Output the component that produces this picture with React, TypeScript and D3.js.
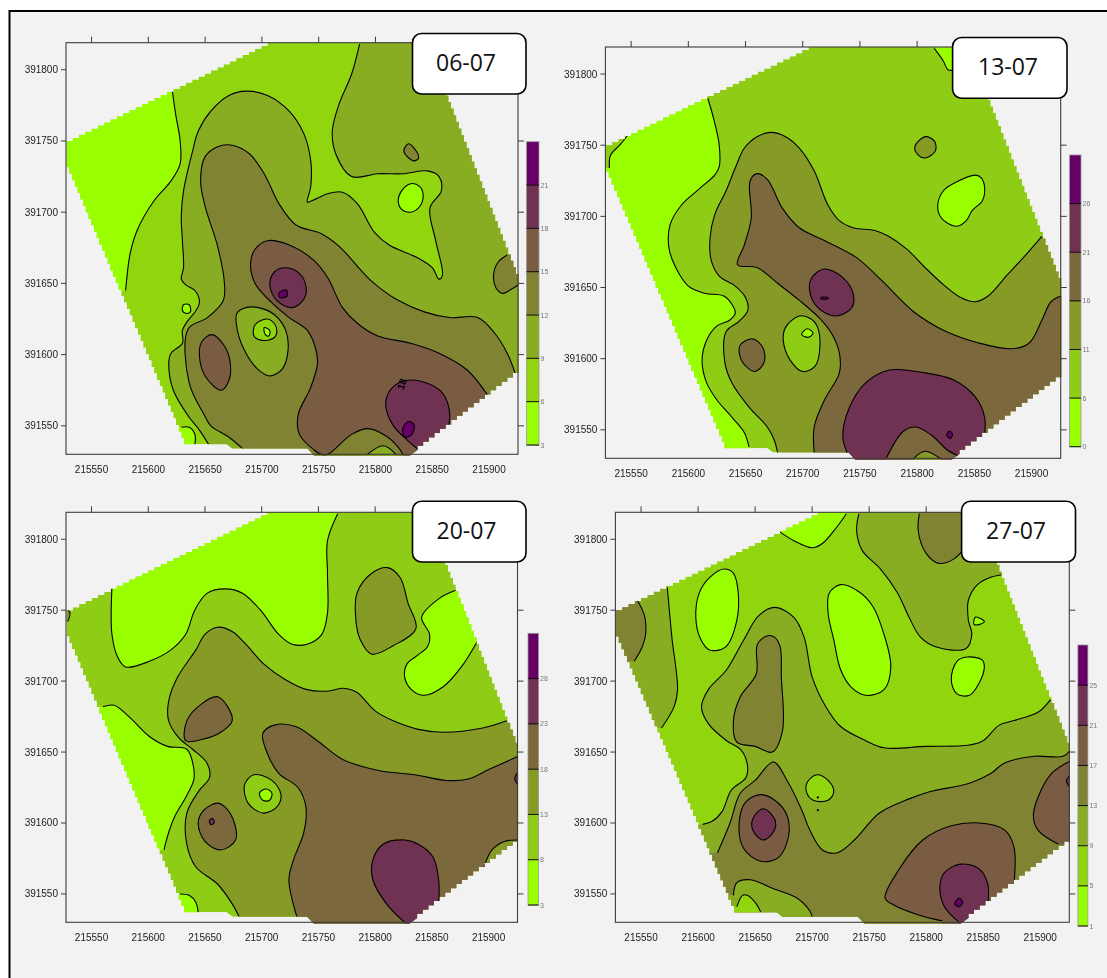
import React from "react";
import * as d3 from "d3";

type Pt = [number, number];
type Shape = { level: number; line: Pt[]; outer?: Pt[] };

// Survey coordinates are stored as metres past these bases.
const EAST_BASE = 215000;
const NORTH_BASE = 391000;
const xTicks = [215550, 215600, 215650, 215700, 215750, 215800, 215850, 215900];
const yTicks = [391550, 391600, 391650, 391700, 391750, 391800];

// Surveyed field outline, shared by all four dates.
const fieldOutline: Pt[] = [[528,750],[705,819],[831,819],[862,782],[926,652],[926,587],[837,533],[830,529],[746,529],[740,534],[674,534],[669,537],[634,537],[528,736]];

// ---- 06-07 ----
const a1Low: Pt[] = [[621,786],[624,769],[628,750],[628,734],[620,722],[605,708],[590,687],[584,671],[580,645]];
const a1LowOut: Pt[] = [[500,645],[500,800],[621,800]];
const a1Corner: Pt[] = [[629,549],[636,549],[641,544],[641,537]];
const a1CornerOut: Pt[] = [[641,500],[600,500],[600,549]];
const a1Tiny: Pt[] = [[631,635],[636,635],[637,630],[633,629],[630,631]];
const a1Mid: Pt[] = [[786,818],[779,797],[768,776],[762,757],[765,741],[779,725],[802,727],[824,727],[846,729],[856,725],[858,715],[848,703],[853,680],[859,656],[856,653],[850,661],[837,668],[812,677],[799,686],[784,706],[771,714],[758,713],[744,708],[740,707],[743,718],[743,736],[737,755],[724,771],[705,782],[686,785],[671,782],[655,771],[644,757],[639,743],[631,715],[629,697],[630,680],[631,661],[629,653],[633,649],[641,645],[645,637],[642,631],[634,623],[630,617],[630,608],[620,601],[618,594],[622,575],[636,556],[645,547],[653,537]];
const a1MidOut: Pt[] = [[653,500],[1000,500],[1000,850],[786,850]];
const a1NE: Pt[] = [[829,748],[825,743],[828,739],[834,736],[838,738],[834,745]];
const a1Pocket: Pt[] = [[831,720],[823,715],[820,708],[823,702],[831,700],[839,704],[842,712],[839,718]];
const a1Olive: Pt[] = [[683,534],[671,542],[655,550],[649,558],[636,580],[635,618],[652,626],[666,638],[667,650],[661,676],[650,704],[646,722],[650,739],[661,746],[674,747],[689,741],[702,727],[715,706],[730,691],[752,685],[768,676],[796,652],[818,639],[843,630],[865,626],[890,626],[905,615],[916,601],[923,587]];
const a1OliveOut: Pt[] = [[1000,560],[1000,500],[683,500]];
const a1East: Pt[] = [[916,670],[908,665],[904,656],[906,647],[912,643],[920,646],[926,649]];
const a1EastOut: Pt[] = [[1000,649],[1000,670]];
const a1Hole: Pt[] = [[686,633],[678,629],[679,615],[686,601],[696,590],[707,585],[718,590],[723,603],[721,617],[711,628],[697,633]];
const a1HoleIn: Pt[] = [[704,625],[694,621],[693,613],[700,610],[711,612],[713,618],[708,624]];
const a1HoleCore: Pt[] = [[702,619],[707,617],[706,613],[703,614]];
const a1Brown: Pt[] = [[900,570],[881,589],[856,601],[831,608],[802,613],[784,622],[771,633],[758,654],[746,666],[724,677],[705,680],[694,674],[690,664],[694,650],[708,637],[724,626],[740,617],[747,605],[749,594],[743,577],[732,558],[733,544],[746,533],[752,530],[758,530],[779,544],[793,548],[809,543],[821,534],[824,530]];
const a1BrownOut: Pt[] = [[824,500],[1000,500],[1000,570]];
const a1South: Pt[] = [[793,530],[807,536],[818,530]];
const a1SouthOut: Pt[] = [[818,520],[793,520]];
const a1West: Pt[] = [[656,614],[647,609],[645,599],[650,585],[664,575],[671,582],[672,595],[667,606]];
const a1PlumN: Pt[] = [[721,661],[711,658],[707,649],[713,638],[727,633],[737,639],[739,647],[733,657]];
const a1PeakN: Pt[] = [[715,643],[718,645],[722,645],[722,641],[716,640]];
const a1PlumS: Pt[] = [[828,582],[815,577],[809,566],[815,551],[828,540],[840,533],[850,537],[864,550],[865,561],[859,573],[845,580]];
const a1PeakS: Pt[] = [[829,553],[824,548],[826,542],[832,544],[834,551]];

// ---- 13-07 ----
const b1Low: Pt[] = [[617,783],[622,769],[627,750],[627,735],[623,729],[609,719],[594,708],[584,694],[583,678],[589,664],[600,651],[614,646],[631,644],[639,637],[641,632],[636,627],[625,623],[616,613],[612,599],[616,583],[625,571],[638,559],[649,548],[653,538]];
const b1LowOut: Pt[] = [[653,500],[500,500],[500,850],[617,850]];
const b1Corner: Pt[] = [[547,757],[540,750],[532,743],[531,734]];
const b1CornerOut: Pt[] = [[500,734],[500,760]];
const b1Top: Pt[] = [[815,818],[823,809],[827,803],[834,803]];
const b1TopOut: Pt[] = [[860,803],[860,830],[815,830]];
const b1Mid: Pt[] = [[909,686],[895,673],[879,659],[862,644],[851,640],[838,643],[823,652],[807,664],[791,677],[775,686],[763,690],[744,692],[732,697],[722,708],[710,732],[697,748],[685,756],[672,759],[660,756],[649,748],[641,734],[633,718],[623,701],[619,685],[620,669],[627,658],[641,651],[650,643],[652,634],[644,626],[633,619],[632,597],[638,583],[653,566],[669,552],[675,543],[678,534]];
const b1MidOut: Pt[] = [[678,500],[1000,500],[1000,686]];
const b1Isle: Pt[] = [[807,756],[798,749],[801,743],[807,741],[816,746],[815,753]];
const b1Pond: Pt[] = [[851,729],[834,724],[823,718],[818,708],[821,699],[834,693],[843,697],[848,704],[857,711],[859,720],[856,727]];
const b1Brown: Pt[] = [[710,534],[710,552],[719,571],[732,590],[732,604],[725,618],[714,629],[697,641],[678,653],[660,664],[643,666],[649,680],[655,699],[654,725],[660,730],[669,726],[682,706],[697,692],[719,683],[747,671],[769,655],[797,633],[823,620],[854,611],[883,607],[898,611],[909,627],[917,640],[926,644]];
const b1BrownOut: Pt[] = [[1000,644],[1000,500],[710,500]];
const b1Hole: Pt[] = [[697,630],[685,622],[683,613],[689,599],[700,591],[711,595],[715,608],[713,622],[707,628]];
const b1HoleCore: Pt[] = [[704,621],[709,618],[705,615],[699,617]];
const b1West: Pt[] = [[655,614],[645,609],[647,598],[658,591],[666,597],[666,606],[661,612]];
const b1PlumN: Pt[] = [[719,663],[708,657],[706,648],[713,636],[729,630],[743,636],[744,646],[735,657]];
const b1PeakN: Pt[] = [[716,643],[722,643],[722,642],[716,642]];
const b1PlumS: Pt[] = [[741,530],[735,545],[741,566],[755,583],[776,592],[807,590],[832,585],[851,573],[859,559],[859,548]];
const b1PlumSOut: Pt[] = [[900,548],[900,500],[741,500]];
const b1Dome: Pt[] = [[773,530],[788,549],[799,552],[813,546],[826,536],[838,531]];
const b1DomeOut: Pt[] = [[838,520],[773,520]];
const b1DomeIn: Pt[] = [[797,530],[807,535],[820,530]];
const b1DomeInOut: Pt[] = [[820,520],[797,520]];
const b1PeakS: Pt[] = [[828,549],[831,547],[829,544],[826,546]];

// ---- 20-07 ----
const c1Top: Pt[] = [[568,766],[568,733],[573,717],[580,710],[601,714],[620,722],[633,733],[641,750],[652,762],[668,765],[683,762],[699,750],[715,733],[727,726],[740,726],[753,733],[758,748],[758,776],[758,799],[767,818]];
const c1TopOut: Pt[] = [[767,850],[568,850]];
const c1Left: Pt[] = [[560,682],[570,683],[583,675],[601,661],[617,654],[634,652],[640,639],[640,630],[633,618],[623,604],[615,585],[614,581]];
const c1LeftOut: Pt[] = [[500,581],[500,682]];
const c1Right: Pt[] = [[871,764],[856,758],[841,745],[848,733],[846,724],[837,718],[828,712],[826,703],[832,694],[843,690],[860,696],[876,710],[890,728]];
const c1RightOut: Pt[] = [[950,728],[950,764]];
const c1Mid: Pt[] = [[916,672],[895,667],[860,664],[838,666],[816,672],[800,679],[784,692],[772,695],[759,693],[740,694],[721,701],[702,712],[686,726],[674,735],[661,738],[650,733],[642,722],[626,703],[618,686],[618,672],[627,660],[639,652],[652,642],[654,632],[645,623],[634,607],[634,585],[642,569],[661,557],[674,543],[680,534]];
const c1MidOut: Pt[] = [[680,500],[1000,500],[1000,672]];
const c1North: Pt[] = [[811,780],[797,776],[784,762],[783,743],[787,729],[797,719],[816,725],[836,737],[829,755],[822,773]];
const c1Hole: Pt[] = [[693,634],[685,627],[688,614],[701,607],[713,611],[717,620],[709,630]];
const c1HoleCore: Pt[] = [[704,624],[698,621],[701,616],[707,616],[709,621]];
const c1BlobA: Pt[] = [[661,689],[647,684],[634,672],[633,658],[648,659],[664,664],[674,672],[670,682]];
const c1BlobB: Pt[] = [[661,614],[649,609],[644,600],[650,587],[664,581],[677,588],[676,600],[668,611]];
const c1BlobBCore: Pt[] = [[654,602],[657,603],[658,600],[655,599]];
const c1Brown: Pt[] = [[731,534],[724,560],[728,574],[737,593],[739,611],[732,625],[715,635],[705,649],[701,663],[711,669],[730,668],[749,658],[771,645],[803,637],[835,634],[863,630],[882,631],[901,638],[926,647]];
const c1BrownOut: Pt[] = [[1000,647],[1000,500],[731,500]];
const c1Edge: Pt[] = [[896,569],[903,581],[914,587],[926,588]];
const c1EdgeOut: Pt[] = [[960,588],[960,560],[896,560]];
const c1Plum: Pt[] = [[826,530],[810,543],[798,560],[798,574],[807,585],[826,588],[838,585],[851,576],[856,560],[856,542]];
const c1PlumOut: Pt[] = [[860,520],[826,520]];
const c1RimPlum: Pt[] = [[925,635],[923,631],[926,627]];
const c1RimPlumOut: Pt[] = [[935,627],[935,635]];
const c1Corner: Pt[] = [[628,550],[636,549],[642,544],[644,537]];
const c1CornerOut: Pt[] = [[644,500],[600,500],[600,550]];
const c1WestRim: Pt[] = [[527,752],[531,748],[529,742]];
const c1WestRimOut: Pt[] = [[520,742],[520,752]];

// ---- 27-07 ----
const d1Top: Pt[] = [[672,805],[684,799],[700,794],[709,797],[722,809],[730,818]];
const d1TopOut: Pt[] = [[730,830],[672,830]];
const d1PondA: Pt[] = [[623,779],[610,773],[601,762],[598,745],[602,730],[610,722],[624,724],[634,743],[635,764],[631,776]];
const d1PondB: Pt[] = [[725,768],[715,762],[714,748],[719,729],[725,708],[734,696],[747,690],[763,694],[769,710],[763,733],[753,753],[741,763]];
const d1PondC: Pt[] = [[836,717],[827,714],[822,701],[827,691],[838,690],[846,698],[851,710],[849,715]];
const d1PondD: Pt[] = [[843,745],[848,744],[851,742],[847,740],[842,740]];
const d1Strip: Pt[] = [[573,766],[577,731],[582,694],[579,682],[568,667]];
const d1StripOut: Pt[] = [[500,667],[500,800],[573,800]];
const d1FarWest: Pt[] = [[546,758],[553,746],[554,733],[551,724],[544,714]];
const d1FarWestOut: Pt[] = [[500,714],[500,758]];
const d1NE: Pt[] = [[741,818],[739,806],[744,792],[760,779],[775,762],[785,745],[795,731],[809,724],[835,723],[840,733],[837,743],[837,757],[845,768],[856,773],[866,775]];
const d1NEOut: Pt[] = [[866,850],[741,850]];
const d1NECore: Pt[] = [[794,818],[793,806],[800,790],[811,783],[824,786],[835,795]];
const d1NECoreOut: Pt[] = [[860,795],[860,850],[794,850]];
const d1Mid: Pt[] = [[909,687],[898,678],[876,672],[864,669],[850,658],[838,655],[800,654],[763,653],[747,658],[725,668],[712,682],[700,703],[693,731],[684,745],[667,752],[653,746],[640,729],[625,708],[609,694],[603,682],[609,670],[625,658],[637,652],[643,642],[642,632],[629,623],[621,608],[612,601],[604,599]];
const d1MidOut: Pt[] = [[500,599],[500,500],[1000,500],[1000,687]];
const d1Tongue: Pt[] = [[661,732],[652,726],[651,705],[637,689],[631,672],[634,657],[650,654],[665,650],[674,665],[673,703],[672,724],[667,731]];
const d1Isle: Pt[] = [[704,634],[696,629],[695,622],[701,616],[714,616],[719,622],[714,630]];
const d1Olive: Pt[] = [[617,579],[628,600],[637,621],[650,630],[666,643],[678,630],[691,609],[698,595],[709,581],[722,579],[737,588],[759,607],[785,617],[803,622],[838,628],[857,635],[868,642],[895,647],[920,647],[927,652]];
const d1OliveOut: Pt[] = [[1000,652],[1000,500],[500,500],[500,579]];
const d1Ring: Pt[] = [[656,620],[642,615],[636,600],[640,582],[655,573],[671,576],[680,595],[674,611]];
const d1RingCore: Pt[] = [[657,610],[648,603],[648,595],[657,588],[667,595],[667,603]];
const d1East: Pt[] = [[927,644],[910,635],[898,618],[894,605],[898,595],[916,585]];
const d1EastOut: Pt[] = [[950,585],[950,644]];
const d1Rim: Pt[] = [[927,634],[923,630],[927,624]];
const d1RimOut: Pt[] = [[940,624],[940,634]];
const d1South: Pt[] = [[814,531],[794,535],[772,542],[764,547],[776,567],[797,588],[822,598],[847,600],[869,595],[877,583],[877,557]];
const d1SouthOut: Pt[] = [[890,540],[890,520],[814,520]];
const d1Plum: Pt[] = [[829,530],[816,541],[812,555],[816,565],[830,571],[846,568],[854,557],[854,542]];
const d1PlumOut: Pt[] = [[860,525],[829,525]];
const d1Peak: Pt[] = [[829,547],[825,543],[829,541],[832,544]];
const d1SW: Pt[] = [[631,549],[634,558],[646,560],[665,554],[687,547],[698,538],[700,534]];
const d1SWOut: Pt[] = [[700,500],[600,500],[600,549]];
const d1SWIn: Pt[] = [[634,541],[639,549],[643,549],[651,543],[655,537]];
const d1SWInOut: Pt[] = [[655,520],[620,520],[620,541]];
const d1Dots: Pt[] = [[705,618],[705,609]];

const legend06 = ["3", "6", "9", "12", "15", "18", "21"];
const legend13 = ["0", "6", "11", "16", "21", "26"];
const legend20 = ["3", "8", "13", "18", "23", "28"];
const legend27 = ["1", "5", "9", "13", "17", "21", "25"];

const palette7 = ["#99ff00", "#90d510", "#88ad20", "#808433", "#7a5c42", "#703352", "#660066"];
const palette6 = ["#99ff00", "#8fcc12", "#869a28", "#7c673c", "#703352", "#660066"];

const s = (level: number, line: Pt[], outer?: Pt[]): Shape => ({ level, line, outer });

const shapes06: Shape[] = [
  s(0, a1Low, a1LowOut), s(0, a1Corner, a1CornerOut), s(0, a1Tiny), s(0, a1Pocket),
  s(2, a1Mid, a1MidOut), s(3, a1NE),
  s(3, a1Olive, a1OliveOut), s(3, a1East, a1EastOut),
  s(2, a1Hole), s(1, a1HoleIn), s(0, a1HoleCore),
  s(4, a1Brown, a1BrownOut), s(2, a1South, a1SouthOut), s(4, a1West),
  s(5, a1PlumN), s(6, a1PeakN), s(5, a1PlumS), s(6, a1PeakS),
];
const shapes13: Shape[] = [
  s(0, b1Low, b1LowOut), s(1, b1Corner, b1CornerOut), s(0, b1Top, b1TopOut), s(0, b1Pond),
  s(2, b1Mid, b1MidOut), s(2, b1Isle),
  s(3, b1Brown, b1BrownOut), s(1, b1Hole), s(0, b1HoleCore), s(3, b1West),
  s(4, b1PlumN), s(5, b1PeakN),
  s(4, b1PlumS, b1PlumSOut), s(3, b1Dome, b1DomeOut), s(2, b1DomeIn, b1DomeInOut), s(5, b1PeakS),
];
const shapes20: Shape[] = [
  s(0, c1Top, c1TopOut), s(0, c1Left, c1LeftOut), s(0, c1Right, c1RightOut), s(2, c1WestRim, c1WestRimOut),
  s(2, c1Mid, c1MidOut), s(2, c1North),
  s(1, c1Hole), s(0, c1HoleCore), s(3, c1BlobA), s(3, c1BlobB), s(4, c1BlobBCore),
  s(3, c1Brown, c1BrownOut), s(2, c1Edge, c1EdgeOut), s(4, c1Plum, c1PlumOut), s(4, c1RimPlum, c1RimPlumOut),
  s(0, c1Corner, c1CornerOut),
];
const shapes27: Shape[] = [
  s(0, d1Top, d1TopOut), s(0, d1PondA), s(0, d1PondB), s(0, d1PondC), s(0, d1PondD),
  s(2, d1Strip, d1StripOut), s(3, d1FarWest, d1FarWestOut),
  s(2, d1NE, d1NEOut), s(3, d1NECore, d1NECoreOut),
  s(2, d1Mid, d1MidOut), s(3, d1Tongue), s(1, d1Isle),
  s(3, d1Olive, d1OliveOut), s(4, d1Ring), s(5, d1RingCore),
  s(4, d1East, d1EastOut), s(5, d1Rim, d1RimOut),
  s(4, d1South, d1SouthOut), s(5, d1Plum, d1PlumOut), s(6, d1Peak),
  s(2, d1SW, d1SWOut), s(1, d1SWIn, d1SWInOut),
];

type PanelCfg = {
  id: string; date: string; shapes: Shape[]; legend: string[]; palette: string[]; dots?: Pt[];
  frame: [number, number, number, number];
  bar: [number, number, number, number];
  box: [number, number, number, number]; textX: number; textY: number;
};

const panels: PanelCfg[] = [
  { id: "p06", date: "06-07", shapes: shapes06, legend: legend06, palette: palette7, frame: [66, 518, 42.7, 454.3], bar: [526.5, 539, 141.7, 445], box: [412.5, 33.5, 113.5, 60.5], textX: 466, textY: 71 },
  { id: "p13", date: "13-07", shapes: shapes13, legend: legend13, palette: palette6, frame: [605.4, 1060.7, 47, 458.3], bar: [1069.6, 1081, 155, 446.7], box: [952.6, 37.5, 114.4, 60.8], textX: 1008, textY: 75 },
  { id: "p20", date: "20-07", shapes: shapes20, legend: legend20, palette: palette6, frame: [66, 517.5, 512.3, 922.3], bar: [528, 538.6, 633.3, 905], box: [412.5, 501.2, 113.5, 60.8], textX: 466.5, textY: 539 },
  { id: "p27", date: "27-07", shapes: shapes27, legend: legend27, palette: palette7, dots: d1Dots, frame: [615.4, 1069.3, 512.3, 922.3], bar: [1077.9, 1087.9, 645, 926], box: [961.6, 501.2, 113.9, 60.8], textX: 1016, textY: 539 },
];

const FRAME = "#3c3c3c";
const LABEL = "Liberation Sans, Arial, sans-serif";

function Panel({ cfg }: { cfg: PanelCfg }) {
  const [left, right, top, bottom] = cfg.frame;
  const x = d3.scaleLinear().domain([215527.5, 215925.5]).range([left, right]);
  const y = d3.scaleLinear().domain([391530, 391819]).range([bottom, top]);
  const px = (p: Pt): [number, number] => [x(p[0] + EAST_BASE), y(p[1] + NORTH_BASE)];
  const open = d3.line<Pt>().x(p => px(p)[0]).y(p => px(p)[1]).curve(d3.curveCatmullRom.alpha(0.5));
  const closed = d3.line<Pt>().x(p => px(p)[0]).y(p => px(p)[1]).curve(d3.curveCatmullRomClosed.alpha(0.5));
  const n = cfg.legend.length;
  const colors = cfg.palette;

  // Field outline drawn with the fine stepped edge that the gridded raster has.
  const stepped: [number, number][] = [];
  const outline = fieldOutline.map(px);
  outline.forEach((a, i) => {
    const b = outline[(i + 1) % outline.length];
    const dx = b[0] - a[0], dy = b[1] - a[1];
    const len = Math.hypot(dx, dy);
    const oblique = Math.abs(dx) > 4 && Math.abs(dy) > 4 && len > 30;
    if (!oblique) { stepped.push(a); return; }
    const k = Math.round(len / 7);
    for (let j = 0; j < k; j++) {
      const p: [number, number] = [a[0] + (dx * j) / k, a[1] + (dy * j) / k];
      const q: [number, number] = [a[0] + (dx * (j + 1)) / k, a[1] + (dy * (j + 1)) / k];
      stepped.push(p, [q[0], p[1]]);
    }
  });
  const fieldD = "M" + stepped.map(p => p.join(",")).join("L") + "Z";
  const [bl, br, bt, bb] = cfg.bar;
  const bandH = (bb - bt) / n;

  return (
    <g>
      <clipPath id={cfg.id + "-clip"}><path d={fieldD} /></clipPath>
      <g filter="url(#soft)">
        <g clipPath={`url(#${cfg.id}-clip)`}>
          <path d={fieldD} fill={colors[1]} />
          {cfg.shapes.map((sh, i) => {
            if (!sh.outer) {
              return <path key={i} d={closed(sh.line)!} fill={colors[sh.level]} stroke="#000" strokeWidth={1.1} />;
            }
            const fillD = open(sh.line)! + sh.outer.map(p => "L" + px(p).join(",")).join("") + "Z";
            return (
              <g key={i}>
                <path d={fillD} fill={colors[sh.level]} />
                <path d={open(sh.line)!} fill="none" stroke="#000" strokeWidth={1.1} />
              </g>
            );
          })}
          {(cfg.dots || []).map((p, i) => <circle key={i} cx={px(p)[0]} cy={px(p)[1]} r={1.1} fill="#000" />)}
        </g>
        {cfg.id === "p06" && (
          <text transform={`translate(${x(215824)},${y(391579)}) rotate(-72)`} fontFamily={LABEL} fontSize={10} fontWeight={700} textAnchor="middle" dominantBaseline="middle">18</text>
        )}
        <rect x={left} y={top} width={right - left} height={bottom - top} fill="none" stroke={FRAME} strokeWidth={1.1} />
        {xTicks.map(t => (
          <g key={t}>
            <line x1={x(t)} x2={x(t)} y1={top} y2={top - 6} stroke={FRAME} />
            <text x={x(t)} y={bottom + 19} textAnchor="middle" fontFamily={LABEL} fontSize={10} fill="#222">{t}</text>
          </g>
        ))}
        {yTicks.map(t => (
          <g key={t}>
            <line x1={left} x2={left - 5} y1={y(t)} y2={y(t)} stroke={FRAME} />
            <line x1={right} x2={right + 6} y1={y(t)} y2={y(t)} stroke={FRAME} />
            <text x={left - 8} y={y(t) + 3.5} textAnchor="end" fontFamily={LABEL} fontSize={10} fill="#222">{t}</text>
          </g>
        ))}
        {colors.map((c, i) => {
          const yy = bb - (i + 1) * bandH;
          return <rect key={c} x={bl} y={yy} width={br - bl} height={bandH + 0.5} fill={c} />;
        })}
        <rect x={bl} y={bt} width={br - bl} height={bb - bt} fill="none" stroke="#999" strokeWidth={0.8} />
        {cfg.legend.map((t, i) => {
          const yy = bb - i * bandH;
          return (
            <g key={t}>
              <line x1={bl} x2={br} y1={yy} y2={yy} stroke="#111" strokeWidth={1} />
              <text x={br + 1.5} y={yy + 2.5} fontFamily={LABEL} fontSize={7} fill="#777">{t}</text>
            </g>
          );
        })}
      </g>
      <rect x={cfg.box[0]} y={cfg.box[1]} width={cfg.box[2]} height={cfg.box[3]} rx={9} fill="#fff" stroke="#000" strokeWidth={1.6} />
      <text x={cfg.textX} y={cfg.textY} textAnchor="middle" fontFamily="'Open Sans', sans-serif" fontSize={23} fill="#111">{cfg.date}</text>
    </g>
  );
}

export default function App() {
  return (
    <svg width={1107} height={978} style={{ position: "absolute", left: 0, top: 0, background: "#fff" }}>
      <defs>
        <filter id="soft" x="-5%" y="-5%" width="110%" height="110%">
          <feGaussianBlur stdDeviation={0.45} />
        </filter>
      </defs>
      <rect x={9.5} y={11} width={1120} height={990} fill="#f2f2f2" stroke="#000" strokeWidth={2} />
      {panels.map(p => <Panel key={p.id} cfg={p} />)}
    </svg>
  );
}
